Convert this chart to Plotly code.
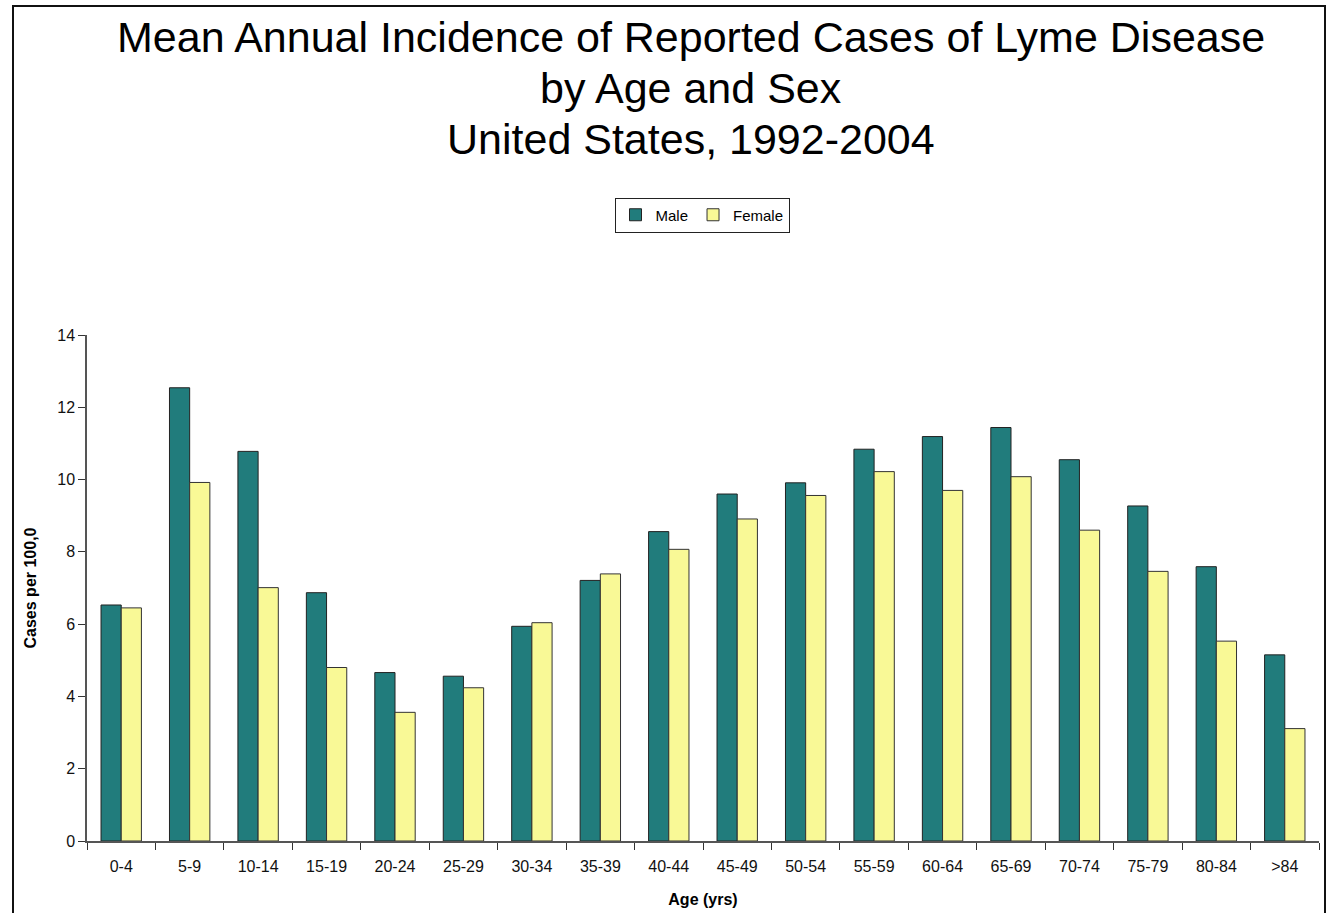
import plotly.graph_objects as go

age_groups = ["0-4", "5-9", "10-14", "15-19", "20-24", "25-29", "30-34", "35-39", "40-44",
              "45-49", "50-54", "55-59", "60-64", "65-69", "70-74", "75-79", "80-84", ">84"]
male = [6.53, 12.54, 10.78, 6.87, 4.66, 4.56, 5.94, 7.21, 8.56,
        9.60, 9.91, 10.84, 11.19, 11.44, 10.55, 9.27, 7.59, 5.15]
female = [6.45, 9.92, 7.01, 4.80, 3.56, 4.24, 6.04, 7.39, 8.07,
          8.91, 9.56, 10.22, 9.70, 10.08, 8.60, 7.46, 5.53, 3.11]
y_ticks = [0, 2, 4, 6, 8, 10, 12, 14]
title_lines = ["Mean Annual Incidence of Reported Cases of Lyme Disease",
               "by Age and Sex",
               "United States, 1992-2004"]

FONT = "Liberation Sans, Arial, sans-serif"

fig = go.Figure()
fig.add_trace(go.Bar(name="Male", x=age_groups, y=male,
                     marker=dict(color="#217C7C", line=dict(color="#222222", width=1))))
fig.add_trace(go.Bar(name="Female", x=age_groups, y=female,
                     marker=dict(color="#F9F996", line=dict(color="#333333", width=1))))

W, H = 1331, 913
ml, mr, mt, mb = 87, 12, 335, 72
pw = W - ml - mr
ph = H - mt - mb

def px_to_paper_x(px):
    return (px - ml) / pw

def px_to_paper_y(py):
    return (H - mb - py) / ph

title_y_px = [37, 88, 139]
annotations = [
    dict(text=t, xref="paper", yref="paper", x=px_to_paper_x(691), y=px_to_paper_y(py),
         xanchor="center", yanchor="middle", showarrow=False,
         font=dict(family=FONT, size=43, color="black"))
    for t, py in zip(title_lines, title_y_px)
]

fig.update_layout(
    width=W, height=H,
    margin=dict(l=ml, r=mr, t=mt, b=mb, autoexpand=False),
    paper_bgcolor="white", plot_bgcolor="white",
    barmode="group", bargap=0.41, bargroupgap=0.0,
    annotations=annotations,
    legend=dict(
        orientation="h", x=px_to_paper_x(702), xanchor="center",
        y=px_to_paper_y(215), yanchor="middle",
        bordercolor="#222222", borderwidth=1, bgcolor="white",
        font=dict(family=FONT, size=15, color="black"),
        itemwidth=30, traceorder="normal", tracegroupgap=0,
    ),
    xaxis=dict(
        showline=True, linecolor="#555555", linewidth=1.5,
        ticks="outside", tickson="boundaries", ticklen=7, tickcolor="#333333",
        ticklabelstandoff=10,
        tickfont=dict(family=FONT, size=16, color="#111111"),
        title=dict(text="<b>Age (yrs)</b>", font=dict(family=FONT, size=16, color="black"), standoff=20),
        showgrid=False, zeroline=False, automargin=False,
    ),
    yaxis=dict(
        range=[0, 14], tickvals=y_ticks,
        showline=True, linecolor="#555555", linewidth=1.5,
        ticks="outside", ticklen=7, tickcolor="#333333",
        tickfont=dict(family=FONT, size=16, color="#111111"),
        title=dict(text="<b>Cases per 100,0</b>", font=dict(family=FONT, size=16, color="black"), standoff=17),
        showgrid=False, zeroline=False, automargin=False,
    ),
    shapes=[dict(type="rect", xref="paper", yref="paper",
                 x0=px_to_paper_x(13), x1=px_to_paper_x(1325),
                 y0=px_to_paper_y(940), y1=px_to_paper_y(6),
                 line=dict(color="#111111", width=2), fillcolor="rgba(0,0,0,0)", layer="above")],
)

fig.write_html("out.html", config={"displayModeBar": False},
               post_script="document.body.style.margin='0px';")
